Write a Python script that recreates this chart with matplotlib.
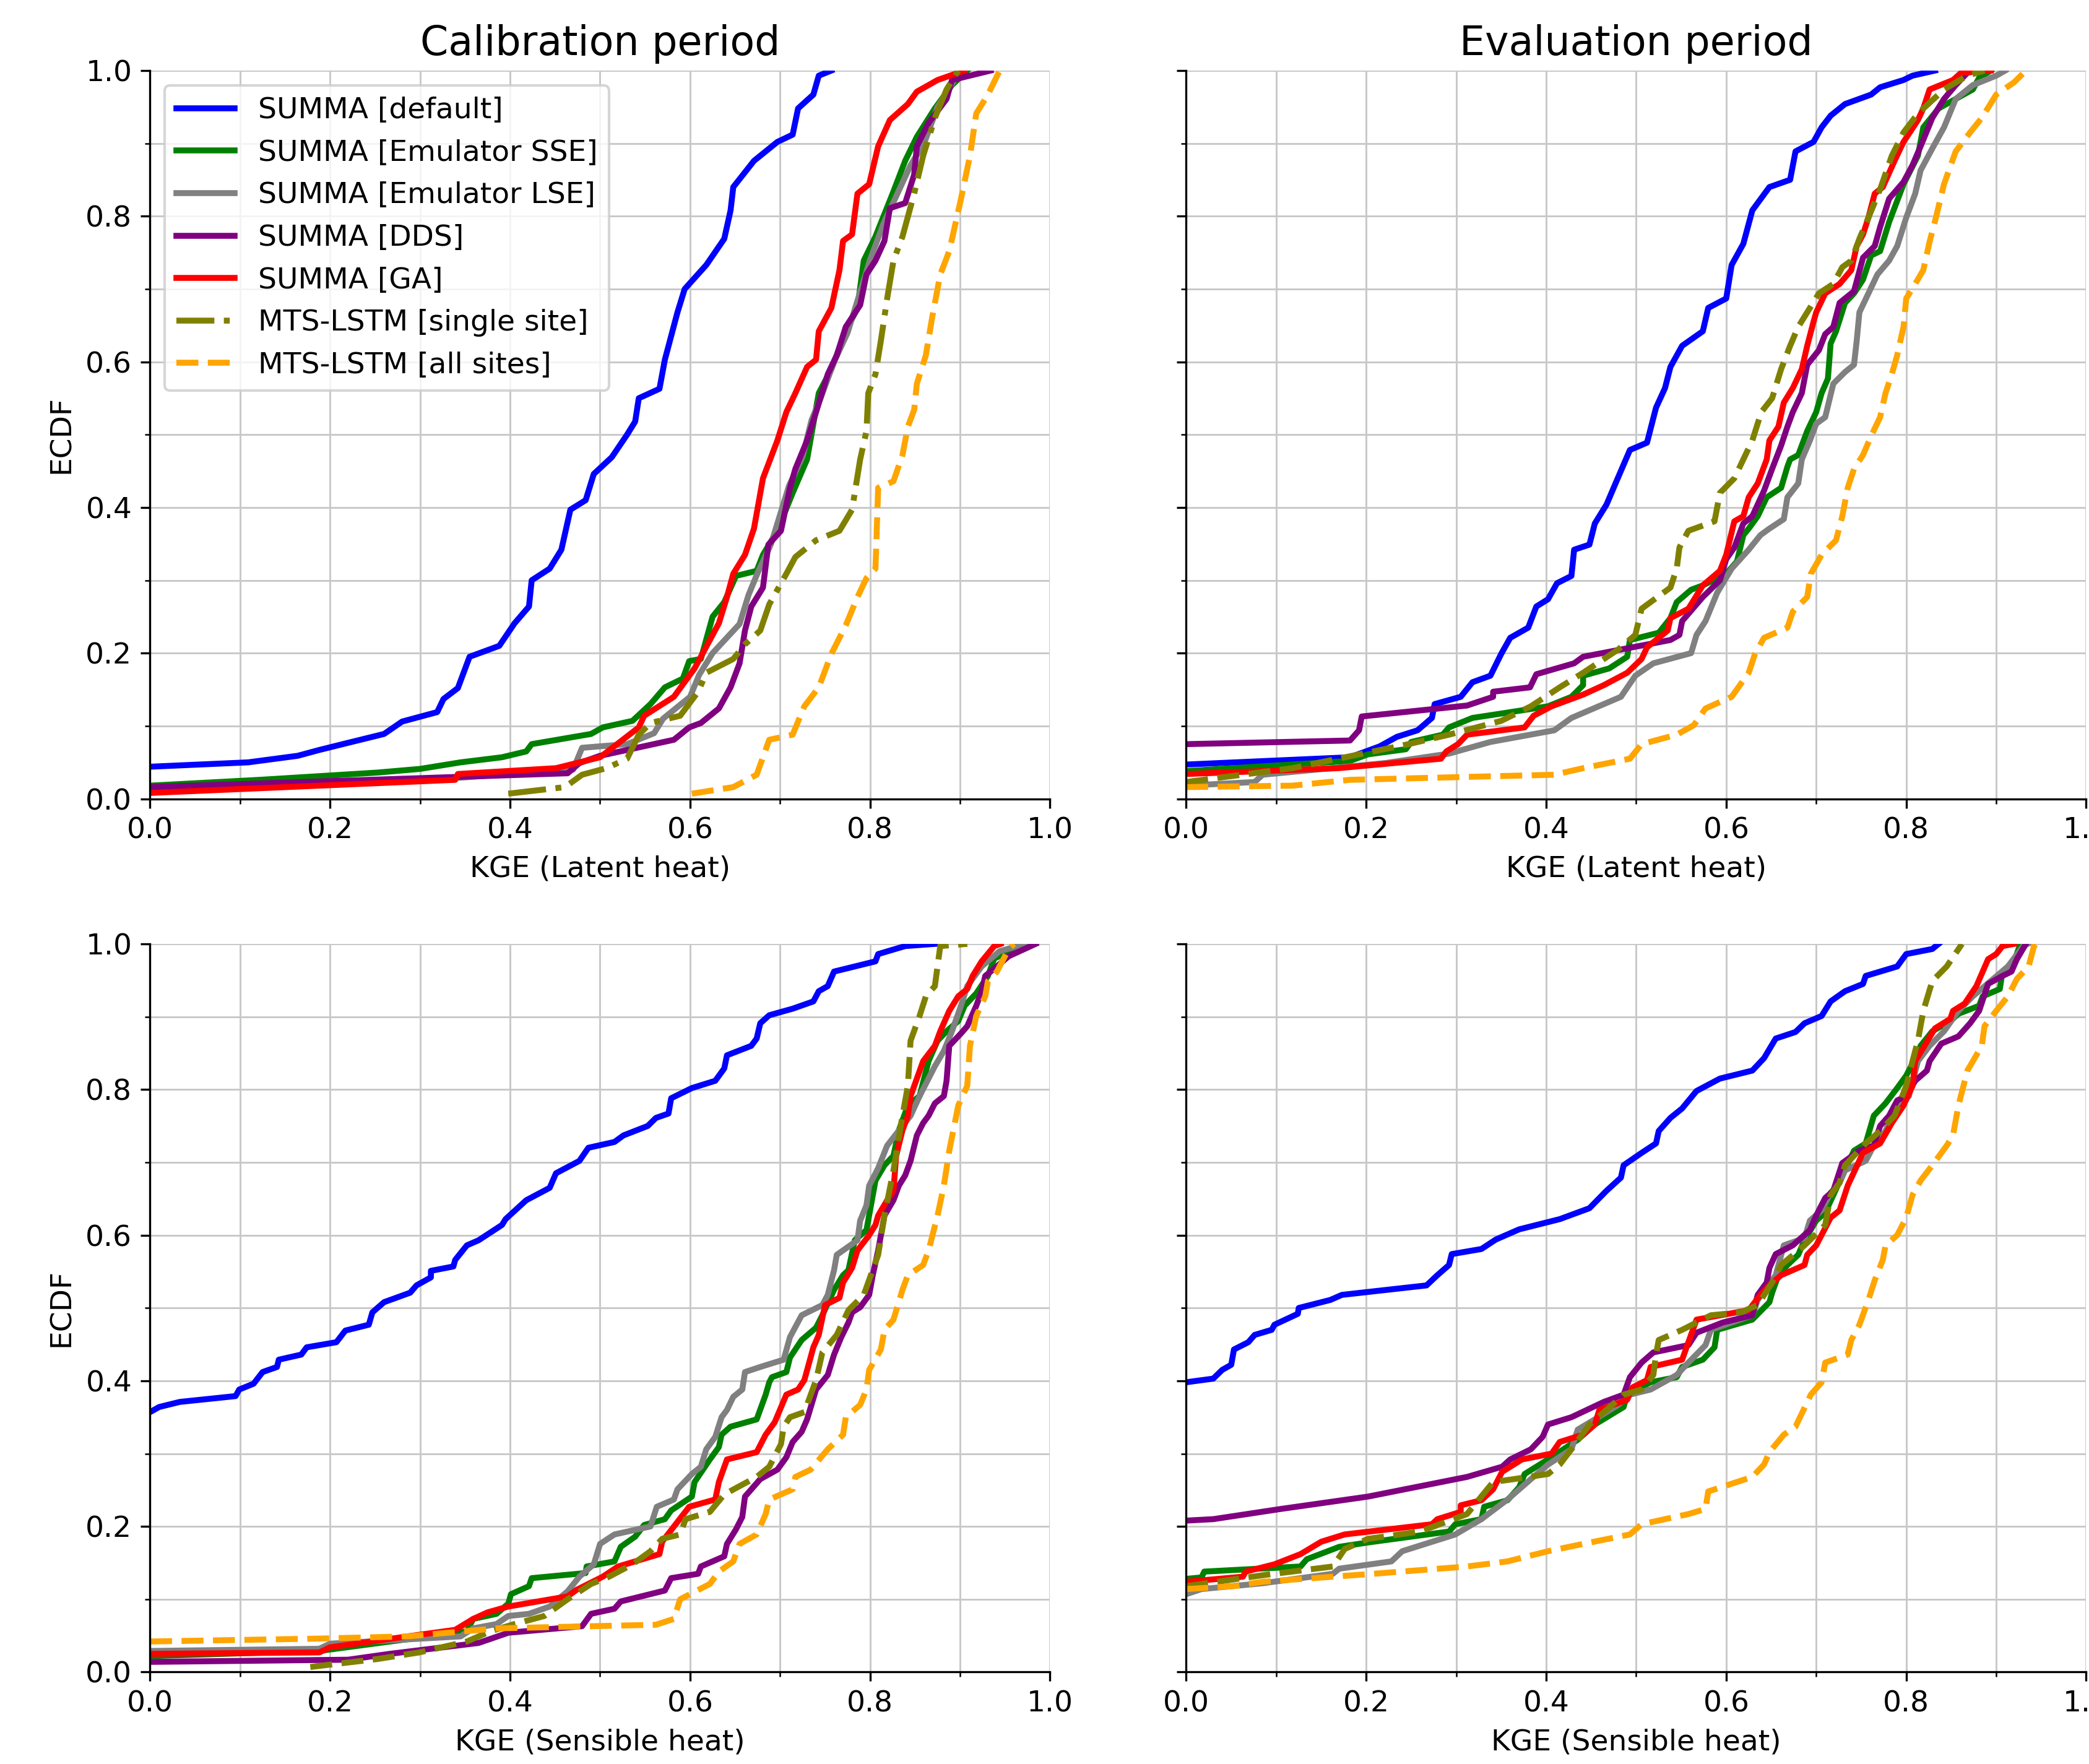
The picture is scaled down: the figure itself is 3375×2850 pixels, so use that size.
import numpy as np
import matplotlib
matplotlib.use("Agg")
import matplotlib.pyplot as plt
from matplotlib.ticker import MultipleLocator

plt.rcParams['font.family'] = ['DejaVu Sans']
plt.rcParams['font.size'] = 11.3

# ---------------------------------------------------------------- labels
series_labels = ["SUMMA [default]", "SUMMA [Emulator SSE]", "SUMMA [Emulator LSE]",
                 "SUMMA [DDS]", "SUMMA [GA]", "MTS-LSTM [single site]", "MTS-LSTM [all sites]"]
series_colors = ["blue", "green", "gray", "purple", "red", "olive", "orange"]
col_titles = ["Calibration period", "Evaluation period"]
row_xlabels = ["KGE (Latent heat)", "KGE (Sensible heat)"]

# ---------------------------------------------------------------- data: (KGE, ECDF) points
# Calibration period, latent heat
cal_le_default = [(0, 0.044), (0.109, 0.05), (0.164, 0.059), (0.188, 0.067), (0.214, 0.075), (0.26, 0.089),
                  (0.28, 0.106), (0.319, 0.119), (0.326, 0.137), (0.342, 0.152), (0.355, 0.195), (0.388, 0.21),
                  (0.405, 0.241), (0.421, 0.264), (0.424, 0.30), (0.444, 0.316), (0.457, 0.342), (0.467, 0.397),
                  (0.484, 0.41), (0.493, 0.446), (0.513, 0.469), (0.53, 0.50), (0.539, 0.518), (0.543, 0.55),
                  (0.566, 0.563), (0.572, 0.603), (0.586, 0.668), (0.594, 0.70), (0.618, 0.733), (0.638, 0.769),
                  (0.645, 0.808), (0.648, 0.84), (0.671, 0.876), (0.697, 0.902), (0.714, 0.912), (0.72, 0.948),
                  (0.737, 0.967), (0.743, 0.993), (0.757, 1.0)]
cal_le_sse = [(0, 0.018), (0.122, 0.026), (0.253, 0.036), (0.30, 0.041), (0.345, 0.05), (0.391, 0.057),
              (0.418, 0.065), (0.424, 0.075), (0.49, 0.089), (0.503, 0.098), (0.536, 0.107), (0.556, 0.13),
              (0.572, 0.153), (0.592, 0.165), (0.599, 0.189), (0.612, 0.192), (0.625, 0.25), (0.638, 0.27),
              (0.651, 0.306), (0.674, 0.313), (0.681, 0.335), (0.697, 0.368), (0.714, 0.42), (0.73, 0.466),
              (0.743, 0.557), (0.757, 0.59), (0.773, 0.642), (0.786, 0.674), (0.793, 0.739), (0.806, 0.772),
              (0.826, 0.834), (0.839, 0.876), (0.852, 0.909), (0.872, 0.948), (0.891, 0.98), (0.908, 1.0)]
cal_le_lse = [(0, 0.012), (0.3, 0.025), (0.47, 0.04), (0.48, 0.07), (0.53, 0.075), (0.56, 0.09), (0.57, 0.11),
              (0.6, 0.14), (0.61, 0.17), (0.625, 0.2), (0.64, 0.22), (0.655, 0.24), (0.665, 0.28),
              (0.675, 0.31), (0.69, 0.35), (0.70, 0.39), (0.71, 0.43), (0.725, 0.47), (0.735, 0.52),
              (0.745, 0.55), (0.76, 0.60), (0.775, 0.64), (0.79, 0.70), (0.80, 0.74), (0.815, 0.79),
              (0.83, 0.83), (0.845, 0.87), (0.86, 0.90), (0.875, 0.95), (0.89, 0.98), (0.90, 1.0)]
cal_le_dds = [(0, 0.016), (0.464, 0.035), (0.477, 0.049), (0.50, 0.059), (0.582, 0.081), (0.599, 0.098),
              (0.612, 0.104), (0.632, 0.124), (0.645, 0.153), (0.655, 0.186), (0.661, 0.231), (0.668, 0.264),
              (0.681, 0.29), (0.687, 0.349), (0.701, 0.368), (0.711, 0.427), (0.717, 0.453), (0.73, 0.492),
              (0.74, 0.531), (0.753, 0.583), (0.763, 0.609), (0.773, 0.648), (0.789, 0.678), (0.796, 0.72),
              (0.806, 0.739), (0.816, 0.766), (0.822, 0.811), (0.839, 0.818), (0.849, 0.857), (0.852, 0.896),
              (0.865, 0.928), (0.885, 0.961), (0.891, 0.987), (0.934, 1.0)]
cal_le_ga = [(0, 0.008), (0.339, 0.026), (0.342, 0.034), (0.451, 0.042), (0.50, 0.057), (0.543, 0.098),
             (0.549, 0.114), (0.582, 0.14), (0.605, 0.179), (0.632, 0.241), (0.641, 0.277), (0.648, 0.309),
             (0.661, 0.335), (0.671, 0.371), (0.681, 0.44), (0.697, 0.492), (0.707, 0.531), (0.717, 0.557),
             (0.73, 0.593), (0.74, 0.603), (0.743, 0.642), (0.757, 0.674), (0.766, 0.726), (0.77, 0.766),
             (0.78, 0.775), (0.786, 0.831), (0.799, 0.844), (0.809, 0.896), (0.822, 0.932), (0.842, 0.954),
             (0.852, 0.971), (0.875, 0.987), (0.905, 1.0)]
cal_le_single = [(0.398, 0.007), (0.461, 0.016), (0.48, 0.033), (0.507, 0.042), (0.53, 0.055), (0.543, 0.088),
                 (0.556, 0.104), (0.589, 0.114), (0.609, 0.147), (0.618, 0.173), (0.648, 0.192), (0.661, 0.212),
                 (0.678, 0.231), (0.688, 0.267), (0.707, 0.309), (0.717, 0.332), (0.74, 0.355), (0.766, 0.368),
                 (0.78, 0.397), (0.789, 0.466), (0.796, 0.505), (0.798, 0.557), (0.806, 0.583), (0.812, 0.629),
                 (0.819, 0.687), (0.826, 0.739), (0.836, 0.772), (0.849, 0.831), (0.859, 0.883), (0.872, 0.935),
                 (0.885, 0.974), (0.898, 1.0)]
cal_le_all = [(0.602, 0.007), (0.648, 0.016), (0.674, 0.033), (0.688, 0.081), (0.714, 0.088), (0.727, 0.127),
              (0.743, 0.153), (0.757, 0.199), (0.773, 0.238), (0.786, 0.277), (0.796, 0.303), (0.806, 0.316),
              (0.809, 0.427), (0.826, 0.436), (0.836, 0.472), (0.842, 0.511), (0.849, 0.534), (0.852, 0.57),
              (0.862, 0.609), (0.869, 0.661), (0.878, 0.72), (0.888, 0.752), (0.90, 0.818), (0.911, 0.883),
              (0.918, 0.941), (0.931, 0.967), (0.944, 1.0)]

# Evaluation period, latent heat
eva_le_default = [(0, 0.047), (0.182, 0.057), (0.215, 0.072), (0.234, 0.085), (0.257, 0.094), (0.273, 0.111),
                  (0.276, 0.13), (0.305, 0.14), (0.318, 0.16), (0.338, 0.169), (0.35, 0.199), (0.36, 0.221),
                  (0.38, 0.235), (0.389, 0.264), (0.402, 0.274), (0.412, 0.296), (0.428, 0.306), (0.431, 0.342),
                  (0.448, 0.349), (0.454, 0.378), (0.467, 0.404), (0.477, 0.433), (0.493, 0.479), (0.512, 0.489),
                  (0.522, 0.537), (0.532, 0.564), (0.538, 0.593), (0.551, 0.622), (0.574, 0.642), (0.58, 0.674),
                  (0.60, 0.687), (0.606, 0.733), (0.619, 0.762), (0.629, 0.808), (0.648, 0.84), (0.671, 0.85),
                  (0.677, 0.889), (0.697, 0.902), (0.706, 0.922), (0.716, 0.938), (0.732, 0.954), (0.761, 0.967),
                  (0.771, 0.977), (0.797, 0.987), (0.807, 0.993), (0.832, 1.0)]
eva_le_sse = [(0, 0.038), (0.182, 0.052), (0.202, 0.061), (0.244, 0.068), (0.25, 0.078), (0.285, 0.088),
              (0.292, 0.098), (0.318, 0.111), (0.35, 0.117), (0.402, 0.127), (0.428, 0.14), (0.441, 0.156),
              (0.441, 0.169), (0.47, 0.179), (0.49, 0.195), (0.493, 0.218), (0.525, 0.228), (0.538, 0.248),
              (0.545, 0.27), (0.561, 0.287), (0.574, 0.293), (0.60, 0.309), (0.612, 0.326), (0.619, 0.362),
              (0.625, 0.371), (0.635, 0.388), (0.645, 0.414), (0.661, 0.427), (0.668, 0.456), (0.671, 0.466),
              (0.68, 0.472), (0.69, 0.505), (0.70, 0.531), (0.706, 0.557), (0.713, 0.577), (0.716, 0.625),
              (0.722, 0.642), (0.732, 0.681), (0.742, 0.694), (0.752, 0.713), (0.761, 0.746), (0.771, 0.752),
              (0.781, 0.792), (0.797, 0.844), (0.813, 0.883), (0.819, 0.922), (0.836, 0.948), (0.855, 0.961),
              (0.874, 0.974), (0.881, 0.99), (0.894, 1.0)]
eva_le_lse = [(0, 0.018), (0.076, 0.023), (0.085, 0.033), (0.221, 0.049), (0.292, 0.062), (0.338, 0.078),
              (0.409, 0.094), (0.428, 0.111), (0.483, 0.14), (0.499, 0.169), (0.519, 0.186), (0.561, 0.20),
              (0.567, 0.225), (0.577, 0.244), (0.59, 0.283), (0.606, 0.316), (0.625, 0.342), (0.638, 0.362),
              (0.648, 0.371), (0.664, 0.384), (0.668, 0.414), (0.68, 0.433), (0.684, 0.466), (0.693, 0.492),
              (0.70, 0.515), (0.71, 0.524), (0.719, 0.57), (0.732, 0.586), (0.742, 0.596), (0.745, 0.629),
              (0.748, 0.668), (0.758, 0.694), (0.768, 0.72), (0.781, 0.739), (0.79, 0.759), (0.80, 0.798),
              (0.81, 0.831), (0.816, 0.863), (0.829, 0.893), (0.842, 0.922), (0.855, 0.961), (0.874, 0.98),
              (0.90, 0.993), (0.91, 1.0)]
eva_le_dds = [(0, 0.075), (0.182, 0.08), (0.192, 0.094), (0.195, 0.113), (0.312, 0.128), (0.341, 0.14),
              (0.341, 0.147), (0.382, 0.153), (0.389, 0.171), (0.431, 0.186), (0.441, 0.195), (0.538, 0.218),
              (0.548, 0.225), (0.551, 0.244), (0.574, 0.277), (0.593, 0.30), (0.60, 0.329), (0.609, 0.345),
              (0.619, 0.378), (0.629, 0.388), (0.642, 0.423), (0.651, 0.453), (0.661, 0.485), (0.668, 0.511),
              (0.674, 0.531), (0.684, 0.557), (0.69, 0.596), (0.703, 0.616), (0.71, 0.638), (0.719, 0.648),
              (0.726, 0.681), (0.742, 0.697), (0.752, 0.743), (0.765, 0.759), (0.771, 0.785), (0.781, 0.824),
              (0.797, 0.847), (0.807, 0.87), (0.816, 0.896), (0.829, 0.935), (0.842, 0.961), (0.855, 0.98),
              (0.868, 0.997), (0.88, 1.0)]
eva_le_ga = [(0, 0.034), (0.169, 0.042), (0.283, 0.055), (0.289, 0.065), (0.302, 0.075), (0.312, 0.088),
             (0.376, 0.098), (0.386, 0.114), (0.406, 0.127), (0.441, 0.143), (0.464, 0.156), (0.49, 0.173),
             (0.506, 0.192), (0.512, 0.208), (0.535, 0.231), (0.538, 0.248), (0.558, 0.261), (0.574, 0.293),
             (0.593, 0.313), (0.60, 0.335), (0.609, 0.381), (0.619, 0.388), (0.625, 0.414), (0.635, 0.433),
             (0.645, 0.466), (0.648, 0.492), (0.658, 0.511), (0.664, 0.544), (0.674, 0.564), (0.684, 0.59),
             (0.69, 0.622), (0.697, 0.655), (0.70, 0.668), (0.71, 0.694), (0.726, 0.707), (0.739, 0.726),
             (0.745, 0.759), (0.752, 0.775), (0.758, 0.798), (0.765, 0.831), (0.774, 0.84), (0.787, 0.876),
             (0.797, 0.902), (0.813, 0.932), (0.819, 0.948), (0.826, 0.974), (0.852, 0.987), (0.861, 0.997),
             (0.894, 1.0)]
eva_le_single = [(0, 0.023), (0.118, 0.042), (0.247, 0.075), (0.292, 0.088), (0.35, 0.107), (0.383, 0.127),
                 (0.415, 0.153), (0.441, 0.173), (0.48, 0.205), (0.499, 0.225), (0.506, 0.261), (0.538, 0.29),
                 (0.545, 0.316), (0.548, 0.345), (0.558, 0.368), (0.587, 0.381), (0.593, 0.42), (0.609, 0.44),
                 (0.619, 0.466), (0.629, 0.492), (0.639, 0.531), (0.651, 0.55), (0.661, 0.59), (0.671, 0.622),
                 (0.68, 0.648), (0.693, 0.674), (0.703, 0.694), (0.719, 0.707), (0.729, 0.73), (0.739, 0.739),
                 (0.748, 0.769), (0.758, 0.798), (0.771, 0.837), (0.784, 0.883), (0.797, 0.915), (0.813, 0.941),
                 (0.842, 0.974), (0.868, 0.993), (0.887, 1.0)]
eva_le_all = [(0, 0.016), (0.118, 0.018), (0.182, 0.026), (0.409, 0.033), (0.441, 0.042), (0.493, 0.055),
              (0.506, 0.075), (0.545, 0.088), (0.564, 0.101), (0.577, 0.124), (0.606, 0.14), (0.625, 0.173),
              (0.632, 0.199), (0.642, 0.221), (0.668, 0.235), (0.674, 0.257), (0.69, 0.277), (0.694, 0.309),
              (0.706, 0.335), (0.722, 0.355), (0.729, 0.388), (0.735, 0.427), (0.742, 0.453), (0.752, 0.472),
              (0.761, 0.498), (0.771, 0.524), (0.777, 0.557), (0.784, 0.583), (0.79, 0.609), (0.797, 0.648),
              (0.80, 0.687), (0.81, 0.707), (0.819, 0.726), (0.826, 0.765), (0.833, 0.798), (0.842, 0.844),
              (0.855, 0.889), (0.871, 0.915), (0.884, 0.935), (0.90, 0.967), (0.92, 0.984), (0.933, 1.0)]

# Calibration period, sensible heat
cal_h_default = [(0, 0.357), (0.01, 0.364), (0.033, 0.371), (0.095, 0.379), (0.099, 0.388), (0.115, 0.396),
                 (0.125, 0.412), (0.141, 0.419), (0.143, 0.429), (0.168, 0.436), (0.174, 0.446), (0.207, 0.453),
                 (0.217, 0.469), (0.243, 0.477), (0.247, 0.494), (0.26, 0.508), (0.289, 0.521), (0.296, 0.531),
                 (0.312, 0.542), (0.312, 0.551), (0.337, 0.557), (0.339, 0.566), (0.352, 0.586), (0.365, 0.593),
                 (0.391, 0.614), (0.395, 0.622), (0.418, 0.648), (0.444, 0.665), (0.451, 0.685), (0.477, 0.702),
                 (0.487, 0.72), (0.516, 0.728), (0.526, 0.737), (0.553, 0.75), (0.562, 0.761), (0.576, 0.767),
                 (0.579, 0.788), (0.602, 0.802), (0.628, 0.812), (0.638, 0.829), (0.641, 0.847), (0.668, 0.86),
                 (0.674, 0.87), (0.678, 0.891), (0.688, 0.902), (0.714, 0.911), (0.737, 0.921), (0.743, 0.935),
                 (0.753, 0.942), (0.76, 0.962), (0.806, 0.976), (0.809, 0.986), (0.839, 0.997), (0.872, 1.0)]
cal_h_sse = [(0, 0.022), (0.188, 0.029), (0.352, 0.056), (0.359, 0.073), (0.385, 0.08), (0.398, 0.094),
             (0.401, 0.107), (0.421, 0.118), (0.424, 0.129), (0.484, 0.136), (0.485, 0.145), (0.516, 0.152),
             (0.523, 0.172), (0.539, 0.186), (0.549, 0.202), (0.572, 0.21), (0.579, 0.222), (0.602, 0.241),
             (0.605, 0.261), (0.622, 0.292), (0.632, 0.309), (0.635, 0.326), (0.645, 0.337), (0.674, 0.347),
             (0.684, 0.381), (0.688, 0.398), (0.691, 0.405), (0.707, 0.412), (0.711, 0.432), (0.724, 0.456),
             (0.74, 0.473), (0.747, 0.49), (0.76, 0.525), (0.77, 0.545), (0.776, 0.552), (0.783, 0.593),
             (0.796, 0.607), (0.806, 0.675), (0.816, 0.696), (0.826, 0.709), (0.832, 0.744), (0.842, 0.778),
             (0.855, 0.791), (0.865, 0.839), (0.875, 0.867), (0.885, 0.88), (0.898, 0.894), (0.905, 0.915),
             (0.918, 0.932), (0.931, 0.956), (0.938, 0.98), (0.97, 0.997), (0.98, 1.0)]
cal_h_lse = [(0, 0.029), (0.188, 0.032), (0.20, 0.039), (0.345, 0.049), (0.359, 0.06), (0.385, 0.066),
             (0.398, 0.077), (0.421, 0.08), (0.444, 0.09), (0.464, 0.111), (0.477, 0.131), (0.493, 0.148),
             (0.50, 0.176), (0.516, 0.189), (0.556, 0.20), (0.563, 0.227), (0.582, 0.237), (0.586, 0.251),
             (0.602, 0.272), (0.612, 0.282), (0.618, 0.306), (0.628, 0.323), (0.635, 0.35), (0.641, 0.36),
             (0.648, 0.378), (0.658, 0.388), (0.661, 0.412), (0.678, 0.419), (0.704, 0.429), (0.711, 0.46),
             (0.724, 0.49), (0.747, 0.504), (0.753, 0.518), (0.76, 0.552), (0.763, 0.573), (0.786, 0.593),
             (0.789, 0.62), (0.796, 0.641), (0.799, 0.668), (0.809, 0.692), (0.819, 0.723), (0.836, 0.75),
             (0.845, 0.764), (0.855, 0.791), (0.872, 0.832), (0.882, 0.853), (0.891, 0.88), (0.901, 0.915),
             (0.908, 0.942), (0.924, 0.969), (0.944, 0.99), (0.964, 0.997), (0.975, 1.0)]
cal_h_dds = [(0, 0.014), (0.22, 0.017), (0.266, 0.025), (0.365, 0.04), (0.398, 0.054), (0.48, 0.063),
             (0.49, 0.08), (0.516, 0.087), (0.523, 0.097), (0.572, 0.112), (0.579, 0.129), (0.609, 0.135),
             (0.612, 0.145), (0.638, 0.159), (0.641, 0.176), (0.651, 0.196), (0.658, 0.213), (0.661, 0.241),
             (0.678, 0.265), (0.697, 0.278), (0.707, 0.295), (0.714, 0.316), (0.724, 0.33), (0.73, 0.347),
             (0.74, 0.388), (0.753, 0.408), (0.76, 0.436), (0.768, 0.46), (0.776, 0.48), (0.78, 0.494),
             (0.789, 0.501), (0.799, 0.518), (0.803, 0.545), (0.809, 0.579), (0.816, 0.627), (0.826, 0.648),
             (0.832, 0.668), (0.839, 0.682), (0.845, 0.702), (0.852, 0.737), (0.859, 0.754), (0.865, 0.764),
             (0.872, 0.781), (0.882, 0.791), (0.885, 0.812), (0.888, 0.86), (0.901, 0.877), (0.908, 0.887),
             (0.918, 0.915), (0.924, 0.935), (0.928, 0.956), (0.938, 0.966), (0.954, 0.983), (0.984, 1.0)]
cal_h_ga = [(0, 0.025), (0.188, 0.027), (0.20, 0.034), (0.286, 0.049), (0.339, 0.058), (0.359, 0.073),
            (0.375, 0.082), (0.398, 0.09), (0.464, 0.104), (0.474, 0.113), (0.503, 0.131), (0.52, 0.145),
            (0.566, 0.162), (0.569, 0.179), (0.599, 0.227), (0.628, 0.237), (0.632, 0.261), (0.641, 0.292),
            (0.674, 0.302), (0.684, 0.326), (0.694, 0.343), (0.707, 0.381), (0.72, 0.388), (0.727, 0.401),
            (0.737, 0.446), (0.743, 0.463), (0.75, 0.504), (0.766, 0.514), (0.77, 0.535), (0.78, 0.555),
            (0.786, 0.579), (0.799, 0.60), (0.806, 0.614), (0.809, 0.627), (0.819, 0.648), (0.826, 0.661),
            (0.829, 0.709), (0.836, 0.744), (0.842, 0.764), (0.845, 0.791), (0.852, 0.815), (0.859, 0.839),
            (0.872, 0.86), (0.878, 0.88), (0.888, 0.908), (0.898, 0.928), (0.908, 0.938), (0.914, 0.956),
            (0.924, 0.976), (0.938, 0.997), (0.945, 1.0)]
cal_h_single = [(0.178, 0.007), (0.253, 0.018), (0.299, 0.027), (0.352, 0.042), (0.378, 0.056), (0.405, 0.066),
                (0.438, 0.077), (0.464, 0.10), (0.49, 0.121), (0.51, 0.131), (0.536, 0.148), (0.556, 0.166),
                (0.569, 0.183), (0.589, 0.189), (0.595, 0.21), (0.622, 0.22), (0.638, 0.244), (0.674, 0.268),
                (0.688, 0.282), (0.701, 0.313), (0.704, 0.337), (0.711, 0.35), (0.727, 0.357), (0.74, 0.401),
                (0.747, 0.439), (0.763, 0.463), (0.776, 0.497), (0.793, 0.518), (0.809, 0.573), (0.816, 0.627),
                (0.826, 0.689), (0.836, 0.764), (0.842, 0.805), (0.845, 0.867), (0.855, 0.901), (0.862, 0.928),
                (0.872, 0.942), (0.878, 0.997), (0.908, 1.0)]
cal_h_all = [(0, 0.042), (0.188, 0.046), (0.286, 0.049), (0.385, 0.06), (0.562, 0.065), (0.582, 0.073),
             (0.589, 0.10), (0.622, 0.121), (0.632, 0.138), (0.648, 0.152), (0.655, 0.176), (0.674, 0.189),
             (0.684, 0.217), (0.688, 0.237), (0.714, 0.251), (0.717, 0.268), (0.734, 0.278), (0.753, 0.306),
             (0.77, 0.326), (0.773, 0.35), (0.789, 0.367), (0.796, 0.388), (0.799, 0.415), (0.812, 0.443),
             (0.816, 0.47), (0.826, 0.484), (0.836, 0.525), (0.842, 0.545), (0.859, 0.559), (0.865, 0.579),
             (0.875, 0.627), (0.882, 0.668), (0.888, 0.716), (0.898, 0.778), (0.908, 0.805), (0.911, 0.86),
             (0.918, 0.901), (0.928, 0.928), (0.931, 0.949), (0.941, 0.962), (0.954, 0.993), (0.96, 1.0)]

# Evaluation period, sensible heat
eva_h_default = [(0, 0.398), (0.03, 0.403), (0.04, 0.415), (0.05, 0.422), (0.053, 0.443), (0.069, 0.453),
                 (0.076, 0.463), (0.095, 0.47), (0.098, 0.477), (0.124, 0.492), (0.125, 0.50), (0.16, 0.511),
                 (0.173, 0.518), (0.267, 0.531), (0.279, 0.545), (0.292, 0.559), (0.295, 0.574), (0.328, 0.581),
                 (0.344, 0.594), (0.37, 0.608), (0.415, 0.622), (0.448, 0.637), (0.467, 0.661), (0.483, 0.679),
                 (0.486, 0.696), (0.506, 0.713), (0.522, 0.726), (0.525, 0.743), (0.538, 0.761), (0.551, 0.774),
                 (0.567, 0.798), (0.593, 0.815), (0.629, 0.826), (0.642, 0.843), (0.655, 0.87), (0.677, 0.879),
                 (0.687, 0.891), (0.706, 0.901), (0.716, 0.921), (0.732, 0.935), (0.752, 0.945), (0.755, 0.956),
                 (0.79, 0.969), (0.80, 0.986), (0.829, 0.993), (0.836, 1.0)]
eva_h_sse = [(0, 0.128), (0.017, 0.13), (0.02, 0.138), (0.127, 0.145), (0.134, 0.155), (0.17, 0.172),
             (0.202, 0.178), (0.292, 0.193), (0.299, 0.203), (0.328, 0.21), (0.331, 0.227), (0.357, 0.236),
             (0.37, 0.254), (0.376, 0.272), (0.402, 0.292), (0.435, 0.319), (0.454, 0.34), (0.486, 0.364),
             (0.49, 0.381), (0.516, 0.398), (0.545, 0.405), (0.551, 0.419), (0.574, 0.429), (0.587, 0.446),
             (0.59, 0.47), (0.629, 0.484), (0.648, 0.508), (0.651, 0.521), (0.658, 0.545), (0.668, 0.559),
             (0.68, 0.573), (0.687, 0.593), (0.70, 0.62), (0.71, 0.631), (0.719, 0.655), (0.729, 0.682),
             (0.742, 0.716), (0.755, 0.726), (0.764, 0.764), (0.777, 0.781), (0.79, 0.802), (0.80, 0.819),
             (0.81, 0.843), (0.816, 0.86), (0.829, 0.88), (0.849, 0.894), (0.858, 0.904), (0.881, 0.915),
             (0.885, 0.928), (0.904, 0.938), (0.907, 0.962), (0.92, 0.976), (0.926, 0.997), (0.93, 1.0)]
eva_h_lse = [(0, 0.107), (0.017, 0.114), (0.085, 0.122), (0.163, 0.135), (0.17, 0.142), (0.228, 0.152),
             (0.24, 0.166), (0.299, 0.189), (0.328, 0.21), (0.357, 0.237), (0.383, 0.265), (0.402, 0.285),
             (0.428, 0.306), (0.435, 0.333), (0.454, 0.347), (0.48, 0.367), (0.493, 0.381), (0.516, 0.388),
             (0.545, 0.408), (0.558, 0.425), (0.577, 0.449), (0.583, 0.47), (0.629, 0.49), (0.635, 0.511),
             (0.655, 0.545), (0.664, 0.586), (0.687, 0.596), (0.693, 0.62), (0.706, 0.634), (0.716, 0.658),
             (0.726, 0.672), (0.732, 0.689), (0.755, 0.702), (0.764, 0.723), (0.777, 0.743), (0.787, 0.771),
             (0.803, 0.791), (0.813, 0.839), (0.826, 0.86), (0.842, 0.88), (0.858, 0.908), (0.874, 0.928),
             (0.894, 0.949), (0.913, 0.969), (0.93, 0.997), (0.935, 1.0)]
eva_h_dds = [(0, 0.208), (0.03, 0.21), (0.105, 0.224), (0.202, 0.241), (0.312, 0.268), (0.351, 0.282),
             (0.36, 0.292), (0.383, 0.306), (0.396, 0.323), (0.402, 0.34), (0.428, 0.35), (0.464, 0.371),
             (0.486, 0.381), (0.493, 0.405), (0.506, 0.425), (0.519, 0.439), (0.558, 0.449), (0.567, 0.466),
             (0.596, 0.48), (0.629, 0.49), (0.635, 0.518), (0.645, 0.535), (0.648, 0.555), (0.655, 0.574),
             (0.674, 0.586), (0.693, 0.607), (0.70, 0.627), (0.71, 0.651), (0.719, 0.661), (0.729, 0.699),
             (0.748, 0.716), (0.764, 0.723), (0.771, 0.75), (0.781, 0.764), (0.79, 0.785), (0.80, 0.791),
             (0.81, 0.812), (0.823, 0.826), (0.826, 0.839), (0.839, 0.863), (0.858, 0.873), (0.871, 0.891),
             (0.881, 0.908), (0.891, 0.945), (0.907, 0.956), (0.917, 0.962), (0.923, 0.979), (0.933, 1.0)]
eva_h_ga = [(0, 0.124), (0.063, 0.131), (0.066, 0.138), (0.098, 0.148), (0.127, 0.162), (0.15, 0.179),
            (0.176, 0.189), (0.273, 0.203), (0.279, 0.21), (0.305, 0.22), (0.305, 0.229), (0.328, 0.236),
            (0.341, 0.251), (0.351, 0.275), (0.373, 0.292), (0.406, 0.30), (0.415, 0.316), (0.441, 0.326),
            (0.454, 0.34), (0.459, 0.36), (0.49, 0.374), (0.496, 0.391), (0.512, 0.401), (0.516, 0.419),
            (0.551, 0.429), (0.567, 0.484), (0.625, 0.497), (0.638, 0.518), (0.648, 0.531), (0.661, 0.545),
            (0.687, 0.559), (0.69, 0.573), (0.70, 0.586), (0.716, 0.624), (0.726, 0.634), (0.735, 0.668),
            (0.752, 0.713), (0.771, 0.726), (0.784, 0.754), (0.797, 0.778), (0.807, 0.805), (0.81, 0.839),
            (0.832, 0.884), (0.849, 0.897), (0.852, 0.908), (0.865, 0.918), (0.878, 0.942), (0.891, 0.979),
            (0.90, 0.986), (0.907, 0.997), (0.92, 1.0)]
eva_h_single = [(0, 0.118), (0.085, 0.133), (0.163, 0.145), (0.176, 0.169), (0.202, 0.183), (0.26, 0.193),
                (0.312, 0.217), (0.341, 0.261), (0.364, 0.265), (0.402, 0.272), (0.415, 0.285), (0.428, 0.306),
                (0.448, 0.34), (0.467, 0.36), (0.486, 0.381), (0.506, 0.388), (0.519, 0.408), (0.522, 0.436),
                (0.525, 0.456), (0.551, 0.47), (0.583, 0.49), (0.616, 0.494), (0.635, 0.504), (0.651, 0.535),
                (0.661, 0.559), (0.687, 0.586), (0.71, 0.614), (0.716, 0.655), (0.726, 0.672), (0.732, 0.696),
                (0.755, 0.726), (0.771, 0.743), (0.787, 0.764), (0.80, 0.805), (0.807, 0.839), (0.813, 0.867),
                (0.819, 0.908), (0.829, 0.949), (0.845, 0.969), (0.862, 1.0)]
eva_h_all = [(0, 0.114), (0.053, 0.118), (0.085, 0.124), (0.208, 0.135), (0.312, 0.145), (0.357, 0.152),
             (0.402, 0.166), (0.441, 0.176), (0.493, 0.189), (0.506, 0.203), (0.558, 0.217), (0.577, 0.224),
             (0.58, 0.248), (0.629, 0.268), (0.642, 0.285), (0.648, 0.302), (0.664, 0.326), (0.677, 0.337),
             (0.694, 0.381), (0.706, 0.398), (0.71, 0.425), (0.735, 0.436), (0.739, 0.456), (0.748, 0.477),
             (0.758, 0.511), (0.765, 0.538), (0.774, 0.566), (0.777, 0.586), (0.79, 0.60), (0.80, 0.624),
             (0.807, 0.655), (0.816, 0.675), (0.829, 0.696), (0.845, 0.723), (0.852, 0.737), (0.858, 0.778),
             (0.868, 0.826), (0.884, 0.86), (0.887, 0.887), (0.90, 0.908), (0.913, 0.928), (0.923, 0.952),
             (0.936, 0.969), (0.942, 0.997), (0.945, 1.0)]

panel_cal_le = [cal_le_default, cal_le_sse, cal_le_lse, cal_le_dds, cal_le_ga, cal_le_single, cal_le_all]
panel_eva_le = [eva_le_default, eva_le_sse, eva_le_lse, eva_le_dds, eva_le_ga, eva_le_single, eva_le_all]
panel_cal_h = [cal_h_default, cal_h_sse, cal_h_lse, cal_h_dds, cal_h_ga, cal_h_single, cal_h_all]
panel_eva_h = [eva_h_default, eva_h_sse, eva_h_lse, eva_h_dds, eva_h_ga, eva_h_single, eva_h_all]

# ---------------------------------------------------------------- figure
fig = plt.figure(figsize=(11.25, 9.5), dpi=300)
lefts = [0.07185, 0.56785]
bottoms = [0.54719, 0.05211]
w, h = 0.43081, 0.41281

panels = [[panel_cal_le, panel_eva_le], [panel_cal_h, panel_eva_h]]
styles_first = ['-', '-', '-', '-', '-', '-.', '--']
styles_other = ['-', '-', '-', '-', '-', '--', '--']

for r in range(2):
    for c in range(2):
        ax = fig.add_axes([lefts[c], bottoms[r], w, h])
        styles = styles_first if (r == 0 and c == 0) else styles_other
        for data, lab, col, ls in zip(panels[r][c], series_labels, series_colors, styles):
            arr = np.array(data)
            ax.plot(arr[:, 0], arr[:, 1], color=col, ls=ls, lw=2.3, label=lab)
        ax.set_xlim(0, 1)
        ax.set_ylim(0, 1)
        ax.xaxis.set_major_locator(MultipleLocator(0.2))
        ax.xaxis.set_minor_locator(MultipleLocator(0.1))
        ax.yaxis.set_major_locator(MultipleLocator(0.2))
        ax.yaxis.set_minor_locator(MultipleLocator(0.1))
        ax.grid(which='both', color='#c8c8c8', lw=0.7)
        ax.set_axisbelow(True)
        for s in ['top', 'right']:
            ax.spines[s].set_visible(False)
        ax.set_xlabel(row_xlabels[r])
        if c == 0:
            ax.set_ylabel('ECDF')
        else:
            ax.tick_params(labelleft=False)
        if r == 0:
            ax.set_title(col_titles[c], fontsize=15.6)
        if r == 0 and c == 0:
            ax.legend(loc='upper left', fontsize=11.3)

fig.savefig('out.png', dpi=300)
